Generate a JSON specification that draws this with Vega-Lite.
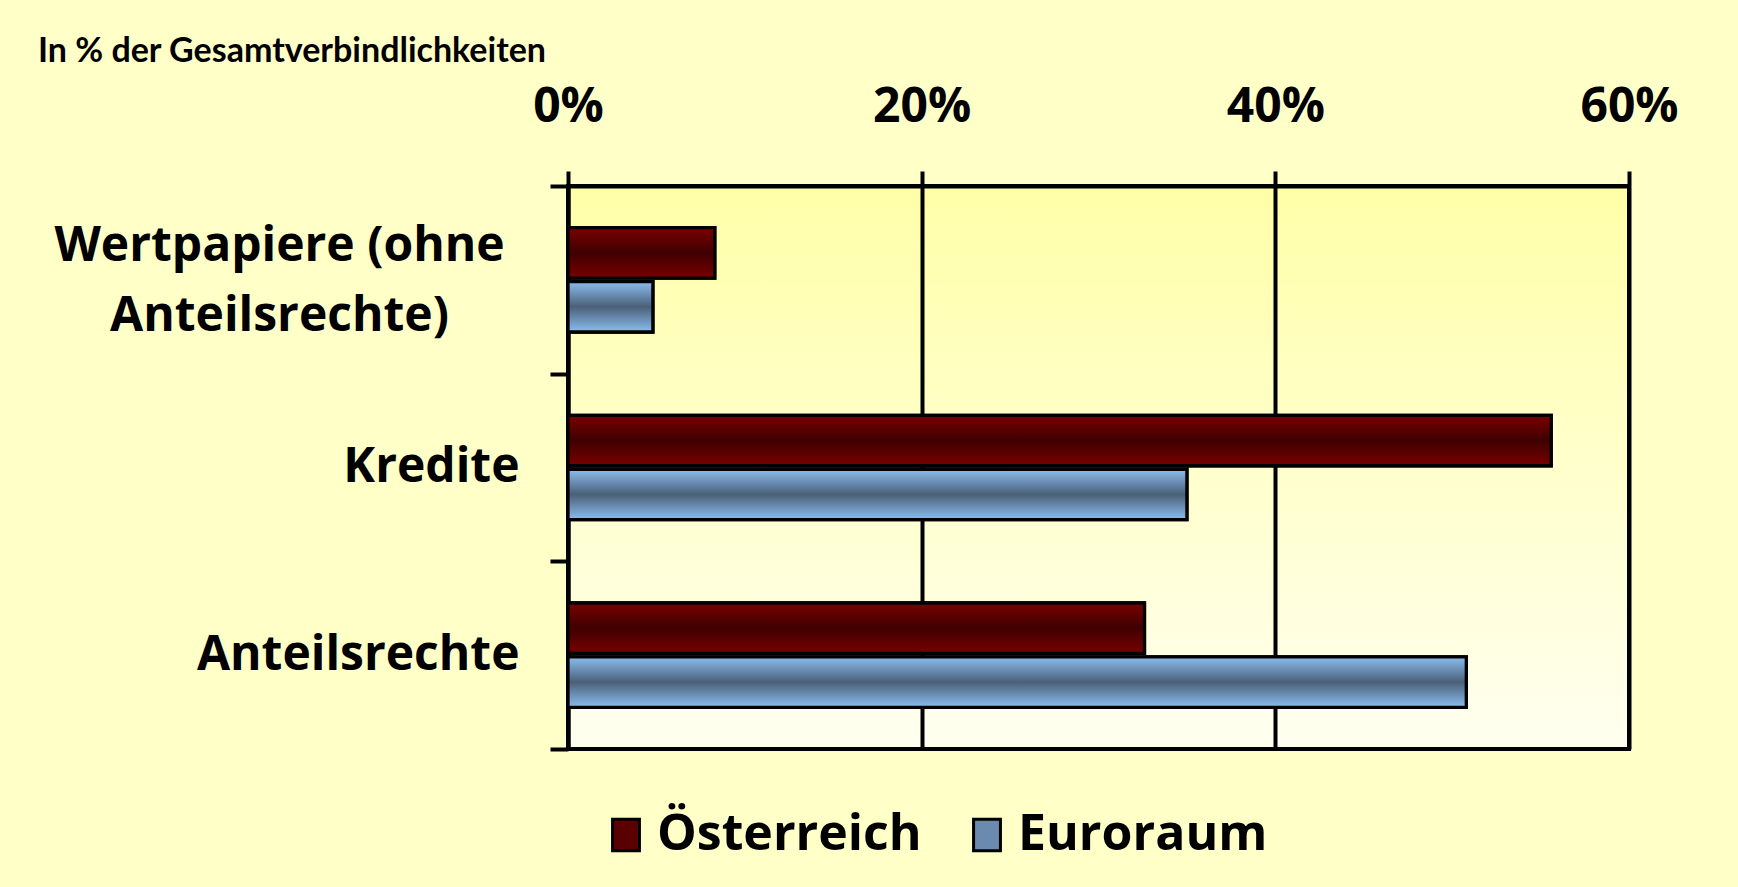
{
  "$schema": "https://vega.github.io/schema/vega-lite/v6.json",
  "width": 1061,
  "height": 563,
  "autosize": {"type": "none"},
  "padding": {"left": 568, "top": 186, "right": 109, "bottom": 138},
  "background": "#ffffc8",
  "title": {
    "text": "In % der Gesamtverbindlichkeiten",
    "anchor": "start",
    "frame": "group",
    "dx": -530,
    "offset": 14,
    "font": "Lato",
    "fontSize": 34,
    "fontWeight": "bold",
    "color": "black"
  },
  "data": {
    "values": [
      {"kategorie": "Wertpapiere (ohne Anteilsrechte)", "serie": "Österreich", "wert": 8.3},
      {"kategorie": "Wertpapiere (ohne Anteilsrechte)", "serie": "Euroraum", "wert": 4.8},
      {"kategorie": "Kredite", "serie": "Österreich", "wert": 55.6},
      {"kategorie": "Kredite", "serie": "Euroraum", "wert": 35.0},
      {"kategorie": "Anteilsrechte", "serie": "Österreich", "wert": 32.6},
      {"kategorie": "Anteilsrechte", "serie": "Euroraum", "wert": 50.8}
    ]
  },
  "encoding": {
    "y": {
      "field": "kategorie",
      "type": "nominal",
      "sort": ["Wertpapiere (ohne Anteilsrechte)", "Kredite", "Anteilsrechte"],
      "scale": {"paddingInner": 0, "paddingOuter": 0},
      "axis": {
        "title": null,
        "tickBand": "extent",
        "ticks": true,
        "tickSize": 18,
        "tickWidth": 4,
        "tickColor": "black",
        "domain": true,
        "domainColor": "black",
        "domainWidth": 4,
        "grid": false,
        "labelFont": "Open Sans",
        "labelFontSize": 48,
        "labelFontWeight": "bold",
        "labelColor": "black",
        "labelLimit": 0,
        "labelLineHeight": 70,
        "labelAlign": {"condition": {"test": "datum.value === 'Wertpapiere (ohne Anteilsrechte)'", "value": "center"}, "value": "right"},
        "labelPadding": {"condition": {"test": "datum.value === 'Wertpapiere (ohne Anteilsrechte)'", "value": 271}, "value": 31},
        "labelOffset": {"condition": {"test": "datum.value === 'Wertpapiere (ohne Anteilsrechte)'", "value": -33}, "value": 0},
        "labelExpr": "datum.value === 'Wertpapiere (ohne Anteilsrechte)' ? ['Wertpapiere (ohne', 'Anteilsrechte)'] : datum.value"
      }
    },
    "yOffset": {
      "field": "serie",
      "type": "nominal",
      "sort": ["Österreich", "Euroraum"],
      "scale": {"paddingInner": 0.065, "paddingOuter": 0.773}
    },
    "x": {
      "field": "wert",
      "type": "quantitative",
      "scale": {"domain": [0, 60], "nice": false},
      "axis": {
        "orient": "top",
        "title": null,
        "values": [0, 20, 40, 60],
        "labelExpr": "datum.value + '%'",
        "labelFlush": false,
        "tickSize": 15,
        "tickWidth": 4,
        "tickColor": "black",
        "domainColor": "black",
        "domainWidth": 4,
        "grid": true,
        "gridColor": "black",
        "gridWidth": 4,
        "gridOpacity": 1,
        "labelFont": "Open Sans",
        "labelFontSize": 48,
        "labelFontWeight": "bold",
        "labelColor": "black",
        "labelPadding": 40
      }
    }
  },
  "layer": [
    {
      "mark": {"type": "bar", "stroke": "black", "strokeWidth": 3.3},
      "encoding": {
        "color": {
          "field": "serie",
          "type": "nominal",
          "scale": {"domain": ["Österreich", "Euroraum"], "range": ["#5a0000", "#6a8ab0"]},
          "legend": {
            "orient": "none",
            "legendX": 33,
            "legendY": 624,
            "direction": "horizontal",
            "title": null,
            "padding": 0,
            "symbolType": "M-0.85,-1H0.85V1H-0.85Z",
            "symbolSize": 1000,
            "symbolStrokeColor": "black",
            "symbolStrokeWidth": 3,
            "symbolOpacity": 1,
            "labelFont": "Open Sans",
            "labelFontSize": 50,
            "labelFontWeight": "bold",
            "labelColor": "black",
            "labelOffset": 6,
            "labelLimit": 0,
            "columnPadding": 40
          }
        }
      }
    },
    {
      "mark": {"type": "bar", "stroke": "black", "strokeWidth": 3.3},
      "encoding": {
        "fill": {
          "condition": {
            "test": "datum.serie === 'Österreich'",
            "value": {
              "gradient": "linear", "x1": 0, "y1": 0, "x2": 0, "y2": 1,
              "stops": [
                {"offset": 0, "color": "#7a0000"},
                {"offset": 0.5, "color": "#3f0000"},
                {"offset": 1, "color": "#7a0000"}
              ]
            }
          },
          "value": {
            "gradient": "linear", "x1": 0, "y1": 0, "x2": 0, "y2": 1,
            "stops": [
              {"offset": 0, "color": "#8cbef0"},
              {"offset": 0.5, "color": "#4a6078"},
              {"offset": 1, "color": "#8cbef0"}
            ]
          }
        }
      }
    }
  ],
  "config": {
    "view": {
      "stroke": "black",
      "strokeWidth": 4,
      "fill": {
        "gradient": "linear", "x1": 0, "y1": 0, "x2": 0, "y2": 1,
        "stops": [
          {"offset": 0, "color": "#ffffa8"},
          {"offset": 1, "color": "#fffff0"}
        ]
      }
    }
  }
}
